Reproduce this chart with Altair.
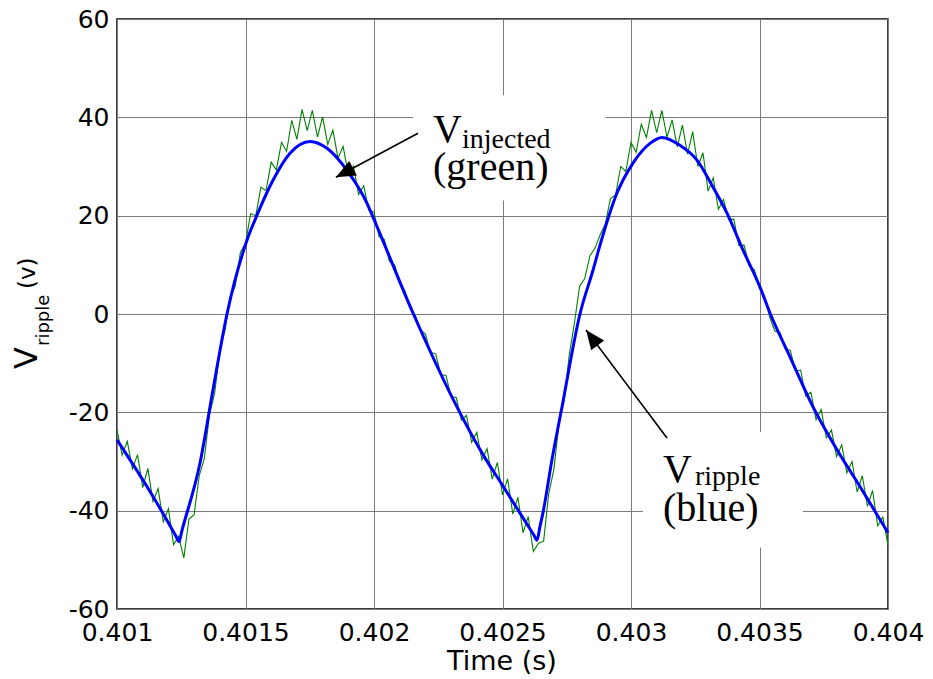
import altair as alt
import pandas as pd

# ---------------- data ----------------
x_domain = [0.401, 0.404]
y_domain = [-60, 60]
x_ticks = [0.401, 0.4015, 0.402, 0.4025, 0.403, 0.4035, 0.404]
y_ticks = [-60, -40, -20, 0, 20, 40, 60]

# V_ripple (blue)
blue_t = [0.4010000, 0.4011284, 0.4012295, 0.4012412, 0.4012529, 0.4013230,
          0.4013735, 0.4014280,
          0.4015058, 0.4015447, 0.4016070, 0.4016731, 0.4017510, 0.4018171,
          0.4018949, 0.4019728, 0.4019961, 0.4021517, 0.4023346, 0.4024241,
          0.4025019, 0.4025681, 0.4026225, 0.4026342, 0.4026459, 0.4026576,
          0.4026926, 0.4027315,
          0.4028015, 0.4028521, 0.4028794, 0.4029455, 0.4030078, 0.4030739,
          0.4031206, 0.4031906, 0.4032568, 0.4033190, 0.4033735, 0.4034358,
          0.4035019, 0.4035408, 0.4036186, 0.4037081, 0.4038015, 0.4038910,
          0.4040000]
blue_v = [-25.6, -36.1, -45.2, -46.3, -44.0, -30.3,
          -15.4, 0.0,
          15.0, 20.1, 27.2, 32.7, 35.1, 33.7,
          29.2, 22.5, 19.7, 0.2, -20.1, -28.6,
          -35.0, -40.5, -45.0, -46.0, -43.2, -40.4,
          -29.6, -18.9,
          0.0, 8.9, 14.0, 24.6, 30.7, 34.7,
          35.9, 34.3, 31.3, 25.8, 20.5, 13.0,
          5.5, 0.2, -8.7, -18.9, -27.6, -35.1,
          -44.5]

green_t0 = 0.401
green_dt = 0.00002
green_v = [-23.6, -28.7, -25.9, -31.5, -28.6, -35.3, -31.4, -38.1, -35.5, -42.3,
           -39.6, -46.9, -45.2, -49.6, -41.7, -40.8, -32.9, -29.3, -20.4, -16.1,
           -7.4, -3.3, 3.3, 5.7, 12.5, 14.4, 20.4, 20.0, 25.8, 25.1,
           30.9, 29.3, 34.9, 33.1, 39.4, 35.5, 41.6, 37.3, 41.4, 36.0,
           40.1, 34.5, 37.4, 31.7, 34.1, 28.3, 30.1, 24.3, 26.1, 21.1,
           20.7, 15.7, 15.2, 10.7, 10.0, 6.2, 4.7, 1.2, -0.2, -3.2,
           -4.1, -7.8, -8.1, -12.3, -12.5, -16.8, -17.0, -21.6, -20.6, -26.1,
           -24.1, -29.7, -27.4, -33.6, -30.2, -36.8, -33.5, -40.7, -37.3, -44.5,
           -41.2, -48.3, -46.6, -46.2, -36.5, -31.6, -22.1, -17.6, -8.2, -1.8,
           5.6, 7.2, 11.8, 13.4, 16.1, 18.3, 23.5, 24.2, 30.0, 29.0,
           34.9, 32.9, 38.6, 35.9, 41.4, 36.9, 41.4, 36.0, 39.5, 34.0,
           38.4, 32.5, 37.1, 30.0, 32.8, 25.0, 27.7, 21.3, 23.3, 19.2,
           19.3, 13.9, 14.0, 9.8, 9.0, 5.2, 3.5, -0.7, -3.5, -3.8,
           -7.1, -7.4, -11.6, -11.4, -16.7, -15.9, -21.5, -19.4, -25.2, -23.6,
           -29.0, -26.6, -32.3, -30.0, -36.2, -32.9, -39.1, -35.9, -43.1, -41.3,
           -47.0]
green_t = [round(green_t0 + i * green_dt, 6) for i in range(len(green_v))]

# annotation texts (data coordinates)
label_text = ["V", "injected", "(green)", "V", "ripple", "(blue)"]
label_t = [0.4022296, 0.4023424, 0.4022296, 0.4031245, 0.4032490, 0.4031245]
label_v = [34.9, 33.7, 27.2, -34.1, -34.7, -42.2]
label_size = [40, 28, 40, 40, 28, 40]

# white boxes behind the annotation texts
box_t = [0.4021517, 0.4030467]
box_t2 = [0.4029000, 0.4036693]
box_v = [23.1, -24.0]
box_v2 = [44.5, -47.5]

# arrows: tail -> head
arrow_t = [0.4021712, 0.4031400]
arrow_v = [36.75, -25.2]
arrow_t2 = [0.4018520, 0.4028250]
arrow_v2 = [27.8, -3.25]
arrow_angle = [242, 323]

# ---------------- chart ----------------
green_df = pd.DataFrame({"t": green_t, "v": green_v})
blue_df = pd.DataFrame({"t": blue_t, "v": blue_v})
label_df = pd.DataFrame({"t": label_t, "v": label_v, "text": label_text, "fs": label_size})
box_df = pd.DataFrame({"t": box_t, "t2": box_t2, "v": box_v, "v2": box_v2})
arrow_df = pd.DataFrame({"t": arrow_t, "v": arrow_v, "t2": arrow_t2, "v2": arrow_v2})
head_df = pd.DataFrame({"t": arrow_t2, "v": arrow_v2, "ang": arrow_angle})

xaxis = alt.Axis(values=x_ticks, labelExpr="'' + datum.value", grid=True, ticks=False,
                 domain=False, labelFont="DejaVu Sans", labelFontSize=25,
                 labelColor="black", labelPadding=11, labelFlush=False,
                 labelOverlap=False, gridColor="#7a7a7a", gridWidth=1, title=None)
yaxis = alt.Axis(values=y_ticks, labelExpr="'' + datum.value", grid=True, ticks=False,
                 domain=False, labelFont="DejaVu Sans", labelFontSize=25,
                 labelColor="black", labelPadding=8, labelFlush=False,
                 labelOverlap=False, gridColor="#7a7a7a", gridWidth=1, title=None)
xs = alt.Scale(domain=x_domain, nice=False, zero=False)
ys = alt.Scale(domain=y_domain, nice=False, zero=False)

X = alt.X("t:Q", scale=xs, axis=xaxis)
Y = alt.Y("v:Q", scale=ys, axis=yaxis)

boxes = alt.Chart(box_df).mark_rect(fill="white", opacity=1).encode(
    x=X, x2=alt.X2("t2:Q"), y=Y, y2=alt.Y2("v2:Q"))

green = alt.Chart(green_df).mark_line(color="#008000", strokeWidth=1.1).encode(
    x=X, y=Y, order="t:Q")

blue = alt.Chart(blue_df).mark_line(color="#0000ff", strokeWidth=3,
                                    interpolate="monotone").encode(
    x=X, y=Y, order="t:Q")

arrows = alt.Chart(arrow_df).mark_rule(color="black", strokeWidth=1.6).encode(
    x=X, y=Y, x2=alt.X2("t2:Q"), y2=alt.Y2("v2:Q"))

heads = alt.Chart(head_df).mark_point(
    shape="M0,0L0.42,1L-0.42,1Z", filled=True, color="black", opacity=1,
    size=1500, strokeWidth=0).encode(
    x=X, y=Y, angle=alt.Angle("ang:Q", scale=None))

labels = alt.Chart(label_df).mark_text(
    font="Liberation Serif", color="black", align="left", baseline="alphabetic").encode(
    x=X, y=Y, text="text:N", size=alt.Size("fs:Q", scale=None))

# axis titles as text (y title has a subscript)
one = pd.DataFrame({"a": [0]})
ytitle_V = alt.Chart(one).mark_text(text="V", font="DejaVu Sans", fontSize=32, angle=270,
                                    align="left", baseline="alphabetic", color="black").encode(
    x=alt.value(-80), y=alt.value(350))
ytitle_sub = alt.Chart(one).mark_text(text="ripple", font="DejaVu Sans", fontSize=18, angle=270,
                                      align="left", baseline="alphabetic", color="black").encode(
    x=alt.value(-68), y=alt.value(327))
ytitle_unit = alt.Chart(one).mark_text(text="(v)", font="DejaVu Sans", fontSize=23, angle=270,
                                       align="left", baseline="alphabetic", color="black").encode(
    x=alt.value(-82), y=alt.value(270))
xtitle = alt.Chart(one).mark_text(text="Time (s)", font="DejaVu Sans", fontSize=27,
                                  align="center", baseline="alphabetic", color="black").encode(
    x=alt.value(385), y=alt.value(651))

chart = alt.layer(
    boxes, green, blue, arrows, heads, labels,
    ytitle_V, ytitle_sub, ytitle_unit, xtitle
).properties(
    width=771, height=590,
    autosize=alt.AutoSizeParams(type="none"),
    padding={"left": 117, "top": 19, "right": 45, "bottom": 70},
    background="white",
).configure_view(stroke="black", strokeWidth=1.5)

chart.save("out.html", embed_options={"renderer": "svg", "actions": False})
